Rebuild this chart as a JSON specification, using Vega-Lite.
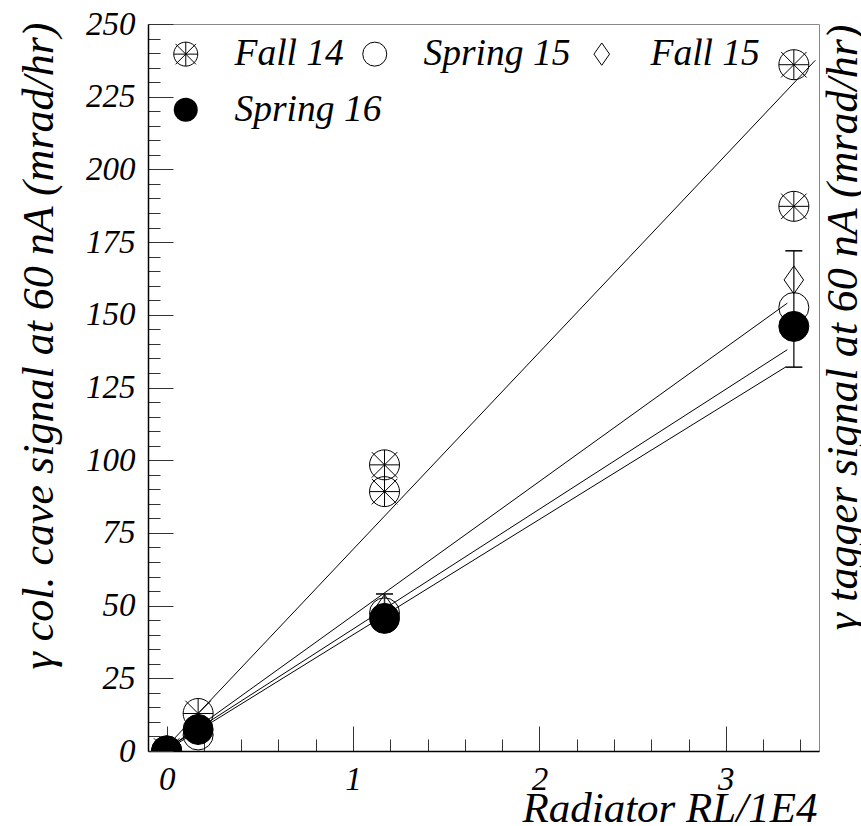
{
  "$schema": "https://vega.github.io/schema/vega-lite/v6.json",
  "width": 671,
  "height": 727,
  "autosize": {"type": "none"},
  "padding": {"left": 148, "top": 24, "right": 42, "bottom": 75},
  "background": "white",
  "config": {
    "font": "Liberation Serif",
    "view": {"stroke": "#888", "strokeWidth": 1},
    "style": {
      "guide-label": {"font": "Liberation Serif"},
      "guide-title": {"font": "Liberation Serif"}
    },
    "axis": {"labelFont": "Liberation Serif", "titleFont": "Liberation Serif"},
    "legend": {"labelFont": "Liberation Serif", "titleFont": "Liberation Serif"}
  },
  "datasets": {
    "points": [
      {"series": "Fall 14", "x": 0, "y": 0},
      {"series": "Fall 14", "x": 0.169, "y": 12.9},
      {"series": "Fall 14", "x": 1.169, "y": 98.4},
      {"series": "Fall 14", "x": 1.169, "y": 89.2},
      {"series": "Fall 14", "x": 3.365, "y": 236},
      {"series": "Fall 14", "x": 3.365, "y": 187.3},
      {"series": "Spring 15", "x": 0, "y": 0},
      {"series": "Spring 15", "x": 0.169, "y": 5.5},
      {"series": "Spring 15", "x": 1.169, "y": 47.5},
      {"series": "Spring 15", "x": 3.365, "y": 152.5},
      {"series": "Fall 15", "x": 0, "y": 0},
      {"series": "Fall 15", "x": 0.169, "y": 7},
      {"series": "Fall 15", "x": 1.169, "y": 49},
      {"series": "Fall 15", "x": 3.365, "y": 162},
      {"series": "Spring 16", "x": 0, "y": 0},
      {"series": "Spring 16", "x": 0.169, "y": 7.4},
      {"series": "Spring 16", "x": 1.169, "y": 45.6},
      {"series": "Spring 16", "x": 3.365, "y": 146}
    ],
    "fits": [
      {"series": "Fall 14", "x": 0, "y": 1.5},
      {"series": "Fall 14", "x": 3.48, "y": 237.5},
      {"series": "Spring 15", "x": 0, "y": 0.5},
      {"series": "Spring 15", "x": 3.33, "y": 154},
      {"series": "Fall 15", "x": 0, "y": 0.7},
      {"series": "Fall 15", "x": 3.33, "y": 138},
      {"series": "Spring 16", "x": 0, "y": 0.3},
      {"series": "Spring 16", "x": 3.32, "y": 132}
    ],
    "errs": [
      {"x": 1.169, "lo": 42, "hi": 54},
      {"x": 3.365, "lo": 132, "hi": 172}
    ]
  },
  "layer": [
    {
      "data": {"name": "fits"},
      "mark": {"type": "line", "color": "black", "strokeWidth": 1, "clip": true},
      "encoding": {
        "x": {"field": "x", "type": "quantitative", "scale": {"domain": [-0.1, 3.5], "nice": false, "zero": false}, "axis": null},
        "y": {
          "field": "y", "type": "quantitative", "scale": {"domain": [0, 250], "nice": false},
          "axis": {
            "orient": "right", "labels": false, "ticks": false, "domain": false, "grid": false,
            "title": "γ tagger signal at 60 nA (mrad/hr)",
            "titleFont": "Liberation Serif", "titleFontSize": 44, "titleFontStyle": "italic", "titleFontWeight": "normal", "titleColor": "black",
            "titleAngle": 270, "titleAlign": "right", "titleBaseline": "alphabetic", "titleX": 37, "titleY": 0
          }
        },
        "detail": {"field": "series", "type": "nominal"}
      }
    },
    {
      "data": {"name": "errs"},
      "mark": {"type": "rule", "color": "#333", "strokeWidth": 1.5, "clip": true},
      "encoding": {
        "x": {
          "field": "x", "type": "quantitative",
          "axis": {
            "orient": "bottom",
            "values": [0.2, 0.4, 0.6, 0.8, 1.2, 1.4, 1.6, 1.8, 2.2, 2.4, 2.6, 2.8, 3.2, 3.4],
            "labels": false, "domain": false, "grid": false, "title": null,
            "tickSize": -12, "tickColor": "#333", "tickWidth": 1
          }
        },
        "y": {
          "field": "lo", "type": "quantitative",
          "axis": {
            "orient": "left",
            "values": [5, 10, 15, 20, 30, 35, 40, 45, 55, 60, 65, 70, 80, 85, 90, 95, 105, 110, 115, 120, 130, 135, 140, 145, 155, 160, 165, 170, 180, 185, 190, 195, 205, 210, 215, 220, 230, 235, 240, 245],
            "labels": false, "domain": false, "grid": false, "title": null,
            "tickSize": -12, "tickColor": "#333", "tickWidth": 1
          }
        },
        "y2": {"field": "hi"}
      }
    },
    {
      "data": {"name": "errs"},
      "transform": [{"fold": ["lo", "hi"], "as": ["end", "yv"]}],
      "mark": {"type": "tick", "orient": "horizontal", "size": 17, "thickness": 1.5, "color": "black", "opacity": 1, "clip": true},
      "encoding": {
        "x": {"field": "x", "type": "quantitative", "axis": null},
        "y": {"field": "yv", "type": "quantitative", "axis": null}
      }
    },
    {
      "data": {"name": "points"},
      "mark": {"type": "point", "size": 900, "opacity": 1, "strokeWidth": 1, "clip": true},
      "encoding": {
        "x": {
          "field": "x", "type": "quantitative",
          "axis": {
            "orient": "bottom",
            "values": [0, 1, 2, 3],
            "labelFlush": false, "labelOverlap": false,
            "tickSize": -25, "labelPadding": 37,
            "labelFont": "Liberation Serif", "labelFontSize": 33, "labelFontStyle": "italic", "labelColor": "black",
            "domainColor": "black", "domainWidth": 1.5, "tickColor": "#333", "tickWidth": 1, "grid": false,
            "title": "Radiator RL/1E4",
            "titleFont": "Liberation Serif", "titleFontSize": 43, "titleFontStyle": "italic", "titleFontWeight": "normal", "titleColor": "black",
            "titleAlign": "right", "titleBaseline": "alphabetic", "titleX": 669, "titleY": 70
          }
        },
        "y": {
          "field": "y", "type": "quantitative",
          "axis": {
            "orient": "left",
            "values": [0, 25, 50, 75, 100, 125, 150, 175, 200, 225, 250],
            "labelFlush": false, "labelOverlap": false,
            "tickSize": -25, "labelPadding": 38,
            "labelFont": "Liberation Serif", "labelFontSize": 33, "labelFontStyle": "italic", "labelColor": "black",
            "domainColor": "black", "domainWidth": 1.5, "tickColor": "#333", "tickWidth": 1, "grid": false,
            "title": "γ col. cave signal at 60 nA (mrad/hr)",
            "titleFont": "Liberation Serif", "titleFontSize": 44, "titleFontStyle": "italic", "titleFontWeight": "normal", "titleColor": "black",
            "titleAngle": 270, "titleAlign": "right", "titleBaseline": "alphabetic", "titleX": -96, "titleY": -2
          }
        },
        "shape": {
          "field": "series", "type": "nominal",
          "scale": {
            "domain": ["Fall 14", "Spring 15", "Fall 15", "Spring 16"],
            "range": [
              "M1,0A1,1,0,1,1,-1,0A1,1,0,1,1,1,0ZM-1,0L1,0M0,-1L0,1M-0.85,-0.85L0.85,0.85M-0.85,0.85L0.85,-0.85",
              "circle",
              "M0,-0.93L0.65,0L0,0.93L-0.65,0Z",
              "circle"
            ]
          },
          "legend": {
            "orient": "none", "legendX": 19, "legendY": 11, "direction": "horizontal", "columns": 3,
            "values": ["Fall 14", "Spring 15", "Fall 15"],
            "title": null, "symbolSize": 576, "symbolStrokeWidth": 1, "symbolStrokeColor": "black", "symbolFillColor": "transparent",
            "labelFont": "Liberation Serif", "labelFontSize": 37.5, "labelFontStyle": "italic", "labelColor": "black",
            "labelOffset": 30, "columnPadding": 12, "padding": 0, "labelLimit": 400,
            "encode": {"labels": {"update": {"font": {"value": "Liberation Serif"}, "fontStyle": {"value": "italic"}}}}
          }
        },
        "stroke": {
          "field": "series", "type": "nominal",
          "scale": {
            "domain": ["Fall 14", "Spring 15", "Fall 15", "Spring 16"],
            "range": ["black", "black", "black", "black"]
          }
        },
        "fill": {
          "field": "series", "type": "nominal",
          "scale": {
            "domain": ["Spring 16", "Fall 14", "Spring 15", "Fall 15"],
            "range": ["black", "transparent", "transparent", "transparent"]
          },
          "legend": {
            "orient": "none", "legendX": 19, "legendY": 67,
            "values": ["Spring 16"],
            "title": null, "symbolSize": 576, "symbolType": "circle", "symbolStrokeWidth": 0,
            "labelFont": "Liberation Serif", "labelFontSize": 37.5, "labelFontStyle": "italic", "labelColor": "black",
            "labelOffset": 30, "padding": 0, "labelLimit": 400,
            "encode": {"labels": {"update": {"font": {"value": "Liberation Serif"}, "fontStyle": {"value": "italic"}}}}
          }
        }
      }
    }
  ],
  "resolve": {"axis": {"x": "independent", "y": "independent"}}
}
